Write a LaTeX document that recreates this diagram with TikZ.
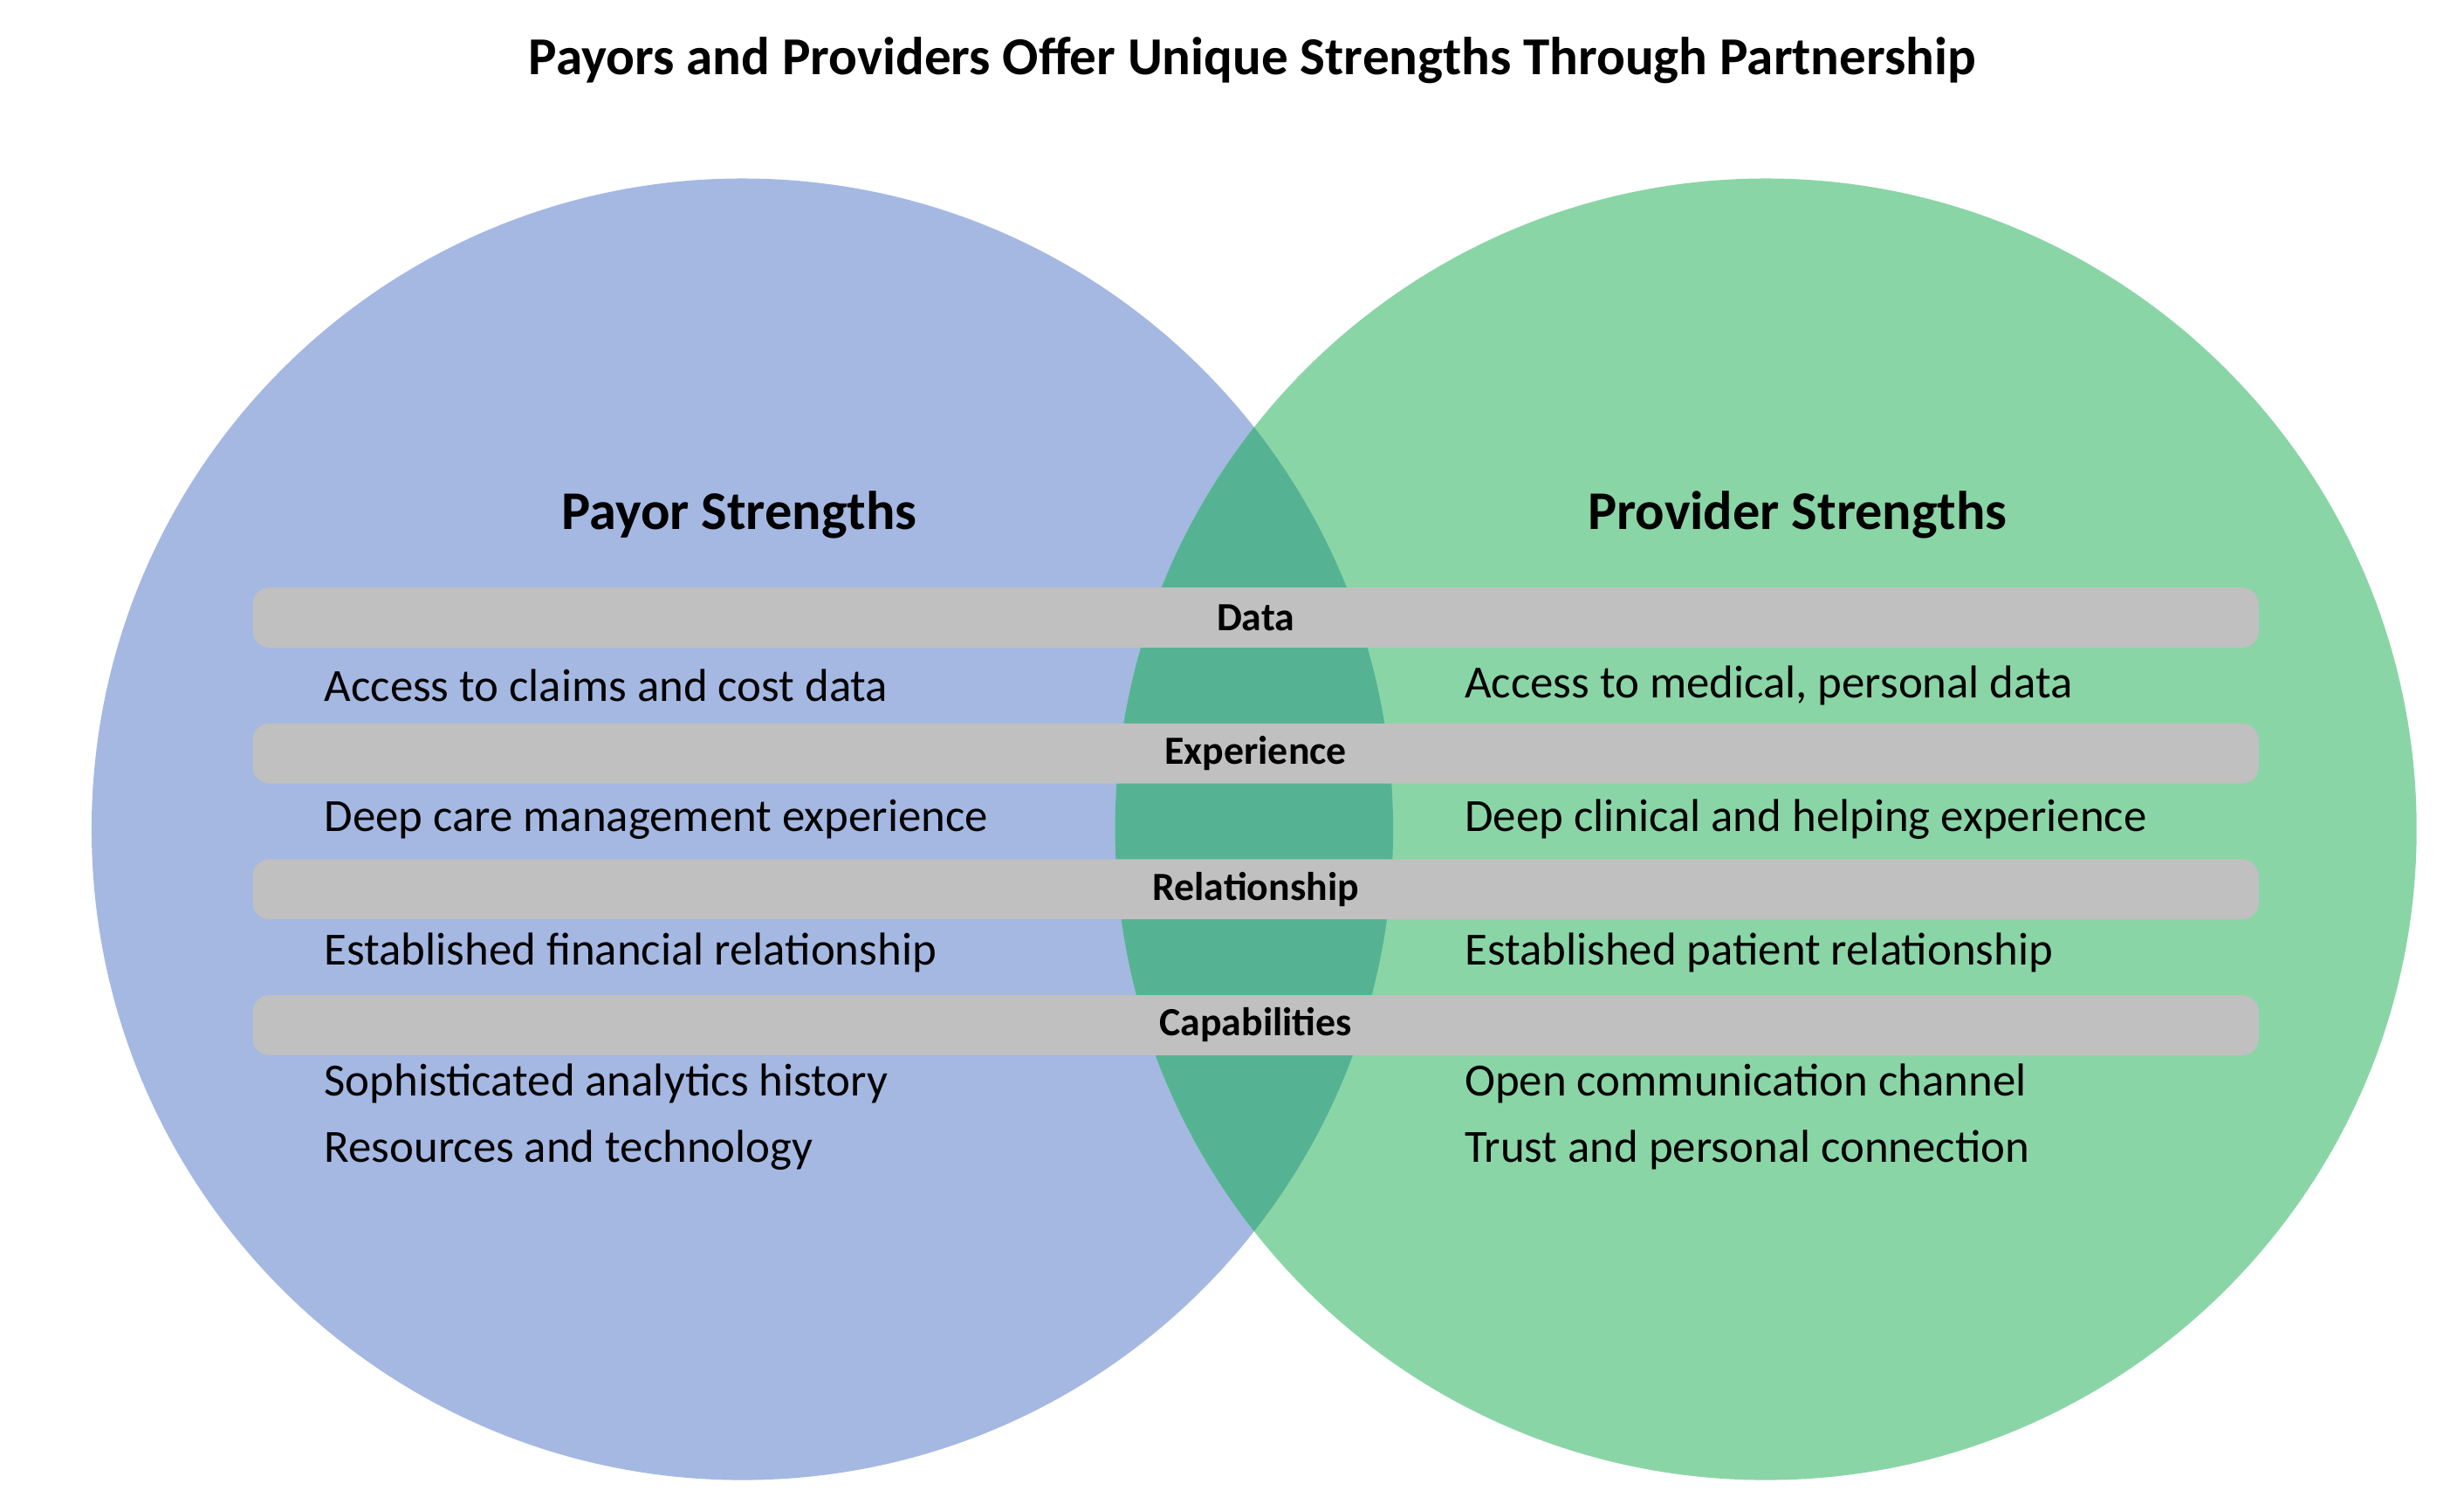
\documentclass[tikz,border=0pt]{standalone}
\usepackage{fontspec}
\setmainfont{Carlito}
\definecolor{lblue}{HTML}{A4B8E2}
\definecolor{lgreen}{HTML}{8AD5A6}
\definecolor{lmid}{HTML}{55B394}
\definecolor{barg}{HTML}{C0C0C0}
\begin{document}
\begin{tikzpicture}[x=0.01cm,y=-0.01cm,
  bar/.style={fill=barg,rounded corners=3pt},
  barlab/.style={font=\fontsize{7.2}{8}\selectfont\bfseries},
  item/.style={anchor=west,font=\fontsize{8.3}{10}\selectfont},
  head/.style={font=\fontsize{9.8}{12}\selectfont\bfseries}]
\useasboundingbox (0,0) rectangle (1560,943);
\fill[white] (0,0) rectangle (1560,943);
\fill[lblue] (470,525) circle (412);
\fill[lgreen] (1118,525) circle (412);
\begin{scope}
\clip (470,525) circle (412);
\fill[lmid] (1118,525) circle (412);
\end{scope}
\node[font=\fontsize{9.6}{12}\selectfont\bfseries] (title) at (793,38) {Payors and Providers Offer Unique Strengths Through Partnership};
\node[head] (hl) at (468,326) {Payor Strengths};
\node[head] (hr) at (1138,326) {Provider Strengths};
\foreach \y/\t/\n in {391/Data/b1,477/Experience/b2,563/Relationship/b3,649/Capabilities/b4}{
  \fill[bar] (160,\y-19) rectangle (1430,\y+19);
  \node[barlab] (\n) at (795,\y) {\t};
}
\node[item] (l1) at (193,434) {Access to claims and cost data};
\node[item] (l2) at (193,519) {Deep care management experience};
\node[item] (l3) at (193,603) {Established financial relationship};
\node[item] (l4) at (193,686) {Sophisticated analytics history};
\node[item] (l5) at (193,728) {Resources and technology};
\node[item] (r1) at (915,434) {Access to medical, personal data};
\node[item] (r2) at (915,519) {Deep clinical and helping experience};
\node[item] (r3) at (915,603) {Established patient relationship};
\node[item] (r4) at (915,686) {Open communication channel};
\node[item] (r5) at (915,728) {Trust and personal connection};
\end{tikzpicture}
\end{document}
